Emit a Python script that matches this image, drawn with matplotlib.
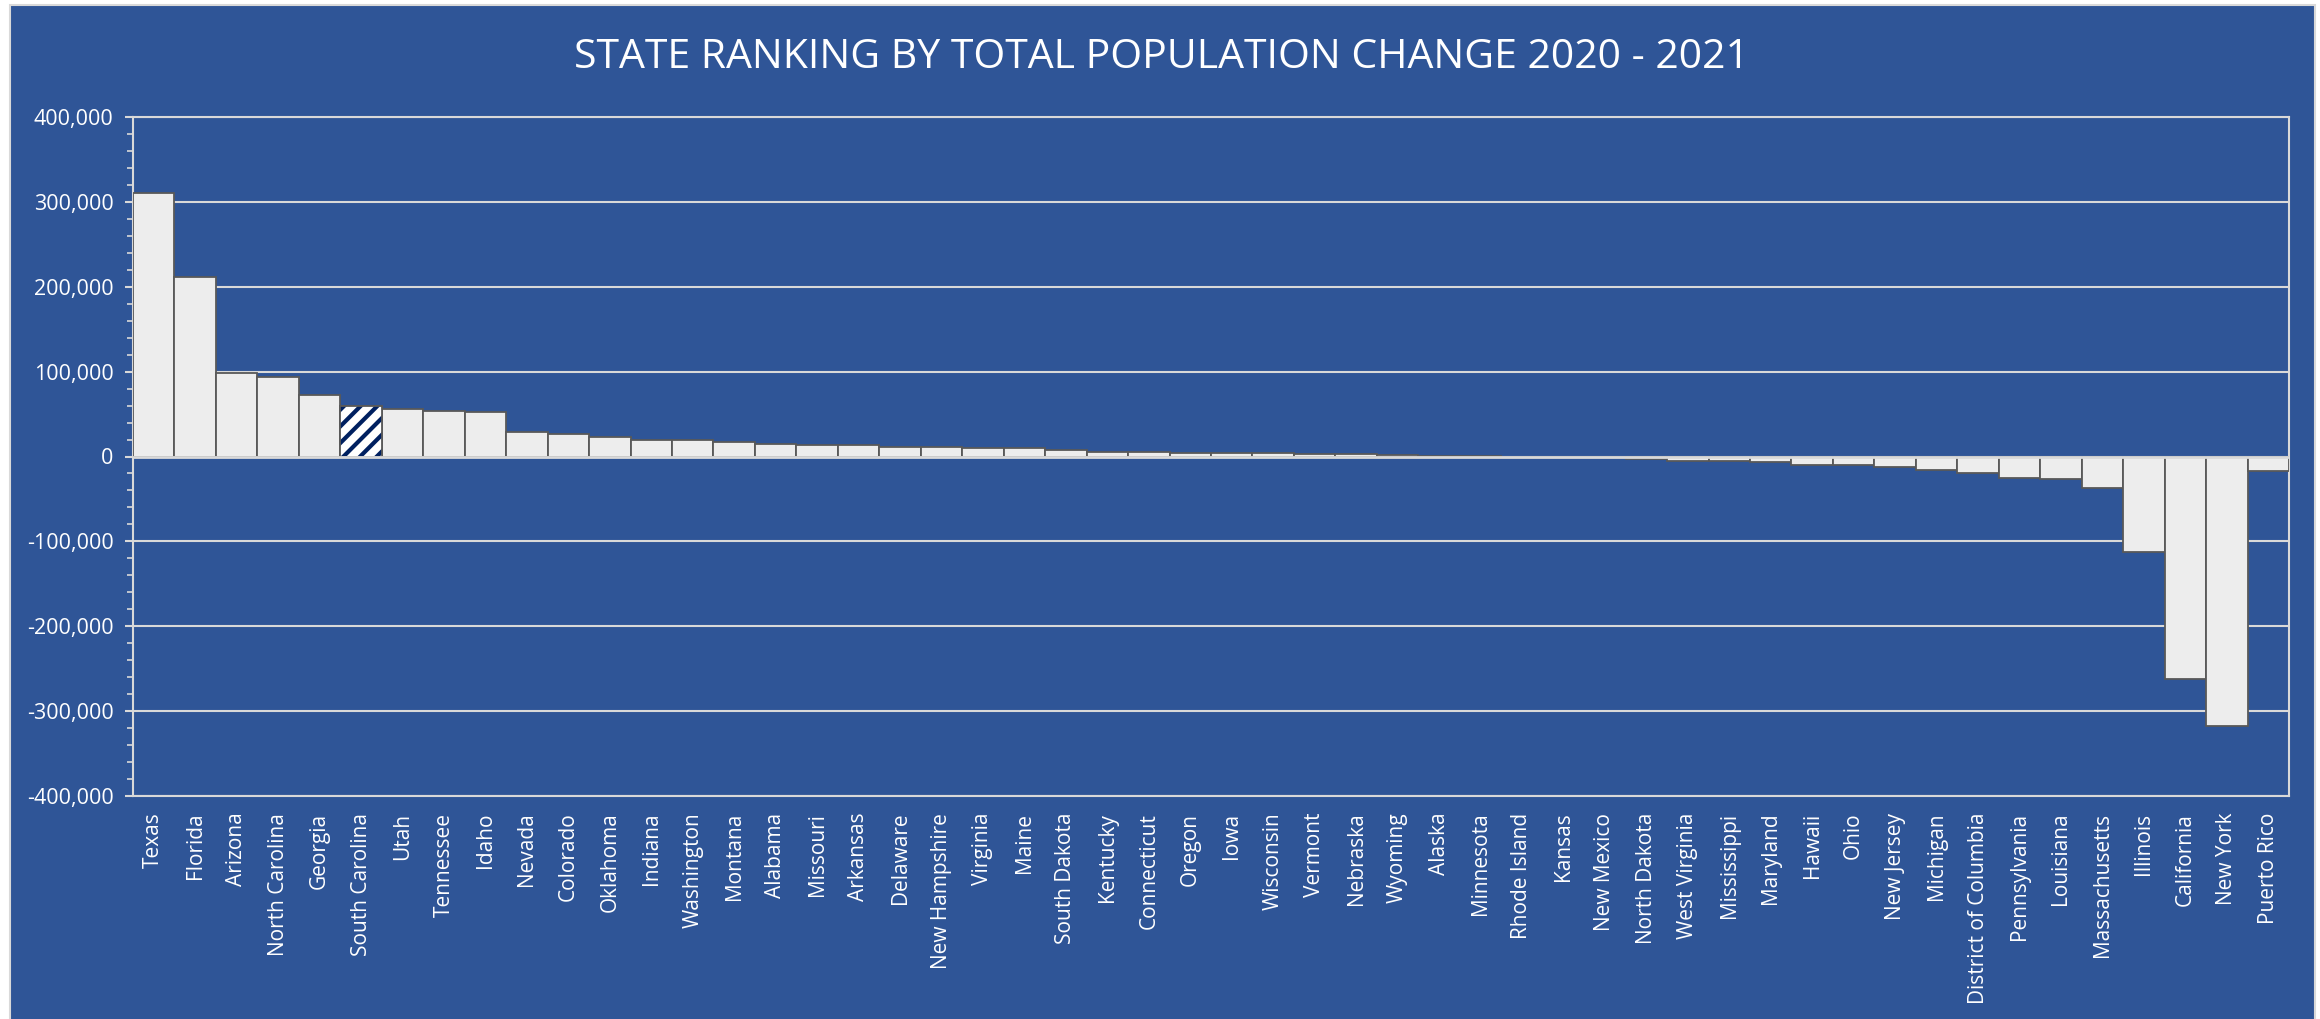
import matplotlib.pyplot as plt
import matplotlib.patches as patches
from matplotlib.ticker import FuncFormatter, MultipleLocator

# data (total change 2020 -> 2021)
states = ['Texas', 'Florida', 'Arizona', 'North Carolina', 'Georgia', 'South Carolina',
          'Utah', 'Tennessee', 'Idaho', 'Nevada', 'Colorado', 'Oklahoma', 'Indiana',
          'Washington', 'Montana', 'Alabama', 'Missouri', 'Arkansas', 'Delaware',
          'New Hampshire', 'Virginia', 'Maine', 'South Dakota', 'Kentucky', 'Connecticut',
          'Oregon', 'Iowa', 'Wisconsin', 'Vermont', 'Nebraska', 'Wyoming', 'Alaska',
          'Minnesota', 'Rhode Island', 'Kansas', 'New Mexico', 'North Dakota',
          'West Virginia', 'Mississippi', 'Maryland', 'Hawaii', 'Ohio', 'New Jersey',
          'Michigan', 'District of Columbia', 'Pennsylvania', 'Louisiana',
          'Massachusetts', 'Illinois', 'California', 'New York', 'Puerto Rico']
change = [310000, 211000, 98400, 93300, 73000, 59000,
          55700, 53700, 52200, 29000, 27000, 23500, 19600,
          19600, 17600, 14900, 13300, 13300, 11400,
          11000, 9800, 9800, 8200, 5500, 5500,
          4700, 4700, 3900, 3100, 2700, 1700, 600,
          400, -800, -900, -1000, -3000,
          -5500, -5300, -7000, -9800, -10000, -12400,
          -16000, -20000, -25000, -26500,
          -37000, -113000, -261600, -318000, -17600]
highlight = 'South Carolina'

BLUE = '#2F5597'
GRID = '#D9D9D9'
NAVY = '#002060'

plt.rcParams['hatch.linewidth'] = 3.0

fig = plt.figure(figsize=(23.2, 10.19), dpi=100)
fig.patch.set_facecolor('white')

# blue panel with light border (runs off the bottom edge)
panel = patches.Rectangle((10 / 2320, -0.02), (2315 - 10) / 2320, 1.02 - 5 / 1019,
                          transform=fig.transFigure, facecolor=BLUE,
                          edgecolor=GRID, linewidth=1.5, zorder=-10)
fig.add_artist(panel)

ax = fig.add_axes([133 / 2320, 223 / 1019, (2289 - 133) / 2320, (796 - 117) / 1019])
ax.set_zorder(1)
ax.set_facecolor(BLUE)

x = list(range(len(states)))
ax.bar(x, change, width=1.0, color='#EDEDED', edgecolor='#595959',
       linewidth=1.3, zorder=3)

# highlighted state: navy stripes on white, grey outline on top
i = states.index(highlight)
ax.bar(i, change[i], width=1.0, color='white', edgecolor=NAVY, hatch='//',
       linewidth=0, zorder=3.5)
ax.bar(i, change[i], width=1.0, fill=False, edgecolor='#595959',
       linewidth=1.3, zorder=3.6)

ax.axhline(0, color=GRID, linewidth=2, zorder=4)

ax.set_xlim(-0.5, len(states) - 0.5)
ax.set_ylim(-400000, 400000)
ax.yaxis.set_major_locator(MultipleLocator(100000))
ax.yaxis.set_minor_locator(MultipleLocator(20000))
ax.yaxis.set_major_formatter(FuncFormatter(lambda v, p: f'{int(v):,}'))
ax.grid(axis='y', color=GRID, linewidth=1.5, zorder=1)
ax.set_axisbelow(True)

for sp in ax.spines.values():
    sp.set_color(GRID)
    sp.set_linewidth(1.5)

ax.tick_params(axis='y', which='major', length=6, width=1.5, color=GRID,
               labelcolor='white', labelsize=15.5, pad=8)
ax.tick_params(axis='y', which='minor', length=4, width=1.2, color=GRID)
for lab in ax.get_yticklabels():
    lab.set_family('Open Sans')

ax.set_xticks(x)
ax.set_xticklabels(states, rotation=90, color='white', fontsize=15,
                   family='Open Sans', va='top')
ax.tick_params(axis='x', length=0, pad=12)

fig.text(1161 / 2320, 1 - 58 / 1019, 'STATE RANKING BY TOTAL POPULATION CHANGE 2020 - 2021',
         ha='center', va='center', color='white', fontsize=29.5, family='Open Sans')

fig.savefig('out.png', dpi=100, facecolor=fig.get_facecolor())
